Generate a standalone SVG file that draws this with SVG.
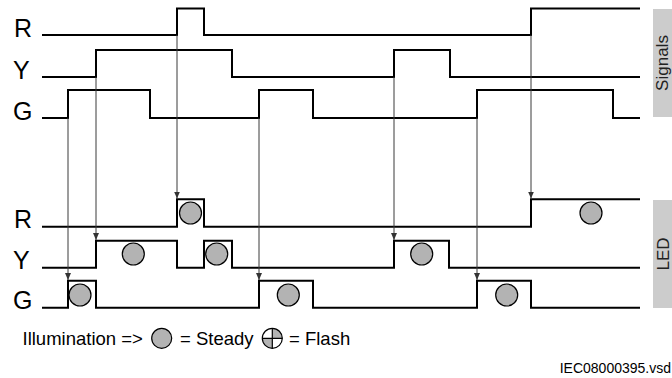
<svg xmlns="http://www.w3.org/2000/svg" width="672" height="378" viewBox="0 0 672 378">
<defs>
<style>
.lbl{font-family:"Liberation Sans",Arial,sans-serif;font-size:25px;fill:#000}
.sig{fill:none;stroke:#000;stroke-width:2}
.con{fill:none;stroke:#3a3a3a;stroke-width:1}
.lamp{fill:#b3b3b3;stroke:#000;stroke-width:1.2}
.leg{font-family:"Liberation Sans",Arial,sans-serif;font-size:18.5px;fill:#000}
.side{fill:#cccccc}
.sidet{font-family:"Liberation Sans",Arial,sans-serif;font-size:17px;fill:#222}
</style>
<marker id="ah" viewBox="0 0 7 6" refX="7" refY="3" markerWidth="7" markerHeight="6" orient="auto" markerUnits="userSpaceOnUse">
<path d="M0,0 L7,3 L0,6 Z" fill="#333"/>
</marker>
</defs>
<rect width="672" height="378" fill="#fff"/>

<g id="sig-R">
<text class="lbl" x="14" y="37">R</text>
<path class="sig" d="M42,35 H177 V8.5 H204 V35 H531 V8.5 H640"/>
</g>
<g id="sig-Y">
<text class="lbl" x="13" y="79">Y</text>
<path class="sig" d="M42,77 H96 V50 H232 V77 H394 V50 H450 V77 H640"/>
</g>
<g id="sig-G">
<text class="lbl" x="13" y="120">G</text>
<path class="sig" d="M42,118 H68 V90 H150 V118 H259 V90 H313 V118 H477 V90 H613 V118 H640"/>
</g>

<g id="led-R">
<text class="lbl" x="14" y="228">R</text>
<path class="sig" d="M42,226.7 H177 V199.3 H204 V226.7 H531 V199.3 H640"/>
<circle class="lamp" cx="190.5" cy="213" r="11"/>
<circle class="lamp" cx="591" cy="213" r="11"/>
</g>
<g id="led-Y">
<text class="lbl" x="13" y="269">Y</text>
<path class="sig" d="M42,267.7 H96 V240.7 H177 V267.7 H204 V240.7 H232 V267.7 H394 V240.7 H449 V267.7 H640"/>
<circle class="lamp" cx="133.3" cy="254" r="11"/>
<circle class="lamp" cx="216.7" cy="254" r="11"/>
<circle class="lamp" cx="421.7" cy="254" r="11"/>
</g>
<g id="led-G">
<text class="lbl" x="13" y="309">G</text>
<path class="sig" d="M42,307.7 H68 V280.7 H96 V307.7 H259 V280.7 H313 V307.7 H477 V280.7 H531 V307.7 H640"/>
<circle class="lamp" cx="80" cy="295" r="11"/>
<circle class="lamp" cx="288.3" cy="295" r="11"/>
<circle class="lamp" cx="506.7" cy="295" r="11"/>
</g>

<g id="connectors">
<line class="con" x1="68" y1="118" x2="68" y2="280" marker-end="url(#ah)"/>
<line class="con" x1="96" y1="77" x2="96" y2="240" marker-end="url(#ah)"/>
<line class="con" x1="177" y1="35" x2="177" y2="198.5" marker-end="url(#ah)"/>
<line class="con" x1="259" y1="118" x2="259" y2="280" marker-end="url(#ah)"/>
<line class="con" x1="394" y1="77" x2="394" y2="240" marker-end="url(#ah)"/>
<line class="con" x1="477" y1="118" x2="477" y2="280" marker-end="url(#ah)"/>
<line class="con" x1="531" y1="35" x2="531" y2="198.5" marker-end="url(#ah)"/>
</g>

<g id="side-signals">
<rect class="side" x="653" y="9" width="19" height="108"/>
<text class="sidet" transform="translate(667.5,63) rotate(-90)" text-anchor="middle">Signals</text>
</g>
<g id="side-led">
<rect class="side" x="653" y="200" width="19" height="108"/>
<text class="sidet" transform="translate(668.5,254) rotate(-90)" text-anchor="middle">LED</text>
</g>

<g id="legend">
<text class="leg" x="22.5" y="345">Illumination =&gt;</text>
<circle class="lamp" cx="161.7" cy="338.3" r="10"/>
<text class="leg" x="180" y="345">= Steady</text>
<path d="M272.3,338.3 V348.3 A10,10 0 0 1 262.3,338.3 Z" fill="#b3b3b3"/>
<path d="M272.3,338.3 V328.3 A10,10 0 0 1 282.3,338.3 Z" fill="#b3b3b3"/>
<circle cx="272.3" cy="338.3" r="10" fill="none" stroke="#000" stroke-width="1.2"/>
<path d="M262.3,338.3 H282.3 M272.3,328.3 V348.3" stroke="#000" stroke-width="1.2"/>
<text class="leg" x="289" y="345">= Flash</text>
</g>

<text id="fileid" x="671" y="373" text-anchor="end" font-family="'Liberation Sans',Arial,sans-serif" font-size="14" fill="#000">IEC08000395.vsd</text>
</svg>
